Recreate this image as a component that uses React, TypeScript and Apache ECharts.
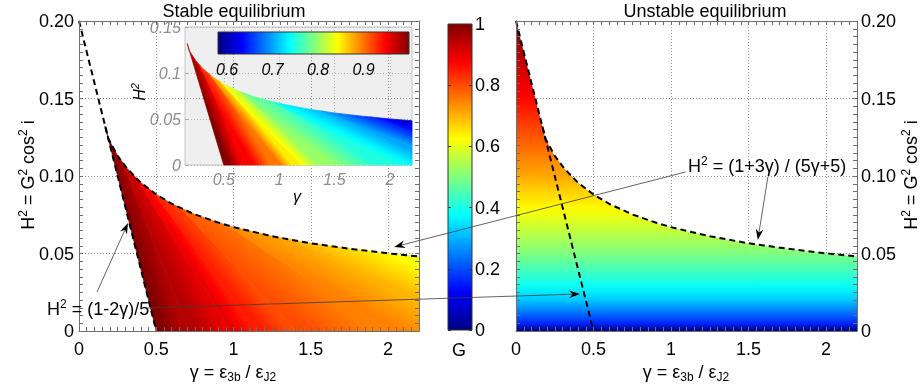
import React, { useEffect, useRef } from "react";
import * as echarts from "echarts";

const FONT = "'Liberation Sans', Arial, Helvetica, sans-serif";
const GAMMA_MAX = 2.2;

// Upper boundary of the equilibrium region (dashed curve), H² against γ
const curveGamma = [0, 0.1, 0.17, 0.19, 0.25, 0.31, 0.4, 0.5, 0.6, 0.75, 0.9, 1.0, 1.25, 1.5, 1.75, 2.0, 2.2];
const curveH2 = [0.2, 0.16, 0.132, 0.124, 0.113, 0.105, 0.0957, 0.0881, 0.0821, 0.0752, 0.07, 0.067, 0.0611, 0.0566, 0.0531, 0.0501, 0.0481];

// H² = (1-2γ)/5, from where it leaves the upper boundary down to H² = 0
const lineGamma = [0.17, 0.5];
const lineH2 = [0.132, 0];

// Stable branch: lines of constant G, from the upper boundary to the bottom / right edge
const isoG = [1.0, 0.95, 0.9, 0.85, 0.8, 0.75, 0.7, 0.65, 0.6];
const isoTopGamma = [0.17, 0.28, 0.38, 0.48, 0.66, 0.95, 1.38, 1.82, 2.2];
const isoEndGamma = [0.5, 0.71, 0.98, 1.15, 1.4, 2.0, 2.2, 2.2, 2.2];
const isoEndH2 = [0, 0, 0, 0, 0, 0, 0.02, 0.035, 0.0481];

// Unstable branch: G against H²
const unstableH2 = [0, 0.005, 0.01, 0.02, 0.03, 0.05, 0.075, 0.1, 0.125, 0.15, 0.2];
const unstableG = [0, 0.16, 0.22, 0.32, 0.39, 0.5, 0.61, 0.71, 0.79, 0.87, 1.0];

// Colour ranges
const mainRange = [0, 1];
const insetRange = [0.58, 1.0];
const colorbarTicks = [0, 0.2, 0.4, 0.6, 0.8, 1];
const insetColorbarTicks = [0.6, 0.7, 0.8, 0.9];
const insetGammaTicks = [0.5, 1, 1.5, 2];

// Annotation arrows: [panel, γ, H²] for tail and head (panel 0 = stable, 1 = unstable)
const arrowTails = [
  [0, 0.117, 0.0252],
  [0, 0.434, 0.0148],
  [1, 1.094, 0.1026],
  [1, 1.625, 0.0994],
];
const arrowHeads = [
  [0, 0.317, 0.0697],
  [1, 0.414, 0.0239],
  [0, 2.039, 0.0542],
  [1, 1.56, 0.0587],
];

const clamp01 = (v: number) => Math.max(0, Math.min(1, v));

function jet(t: number): string {
  const x = clamp01(t);
  const r = clamp01(1.5 - Math.abs(4 * x - 3));
  const g = clamp01(1.5 - Math.abs(4 * x - 2));
  const b = clamp01(1.5 - Math.abs(4 * x - 1));
  return `rgb(${Math.round(r * 255)},${Math.round(g * 255)},${Math.round(b * 255)})`;
}

const jetStops = [0, 0.125, 0.375, 0.625, 0.875, 1].map((t) => ({ offset: t, color: jet(t) }));

function lookup(xs: number[], ys: number[], x: number): number {
  if (x <= xs[0]) return ys[0];
  for (let i = 1; i < xs.length; i++) {
    if (x <= xs[i]) {
      const f = (x - xs[i - 1]) / (xs[i] - xs[i - 1]);
      return ys[i - 1] + f * (ys[i] - ys[i - 1]);
    }
  }
  return ys[ys.length - 1];
}

const curveAt = (g: number) => lookup(curveGamma, curveH2, g);
const lowerKey = (g: number, h: number) => g + h;
const lowerCorners = [
  [lineGamma[1], 0],
  [GAMMA_MAX, 0],
  [GAMMA_MAX, curveAt(GAMMA_MAX)],
];

// Polygon (data space) between two neighbouring constant-G lines
function bandPoints(k: number): number[][] {
  const t0 = isoTopGamma[k];
  const t1 = isoTopGamma[k + 1];
  const pts: number[][] = [[t0, curveAt(t0)]];
  curveGamma.forEach((g, i) => {
    if (g > t0 + 1e-9 && g < t1 - 1e-9) pts.push([g, curveH2[i]]);
  });
  pts.push([t1, curveAt(t1)]);
  const e0 = [isoEndGamma[k], isoEndH2[k]];
  const e1 = [isoEndGamma[k + 1], isoEndH2[k + 1]];
  pts.push(e1);
  const k0 = lowerKey(e0[0], e0[1]);
  const k1 = lowerKey(e1[0], e1[1]);
  lowerCorners
    .filter((c) => {
      const kc = lowerKey(c[0], c[1]);
      return kc > k0 + 1e-9 && kc < k1 - 1e-9;
    })
    .reverse()
    .forEach((c) => pts.push(c));
  pts.push(e0);
  return pts;
}

function makeBandRenderer(range: number[]) {
  const toT = (G: number) => (G - range[0]) / (range[1] - range[0]);
  return (params: any, api: any) => {
    const k = params.dataIndex;
    const pts = bandPoints(k).map((p) => api.coord(p));
    const a0 = api.coord([isoTopGamma[k], curveAt(isoTopGamma[k])]);
    const b0 = api.coord([isoEndGamma[k], isoEndH2[k]]);
    const a1 = api.coord([isoTopGamma[k + 1], curveAt(isoTopGamma[k + 1])]);
    const b1 = api.coord([isoEndGamma[k + 1], isoEndH2[k + 1]]);
    let dx = 0;
    let dy = 0;
    [[a0, b0], [a1, b1]].forEach(([a, b]) => {
      const l = Math.hypot(a[0] - b[0], a[1] - b[1]);
      if (l > 1e-6) {
        dx += (a[0] - b[0]) / l;
        dy += (a[1] - b[1]) / l;
      }
    });
    const dl = Math.hypot(dx, dy) || 1;
    dx /= dl;
    dy /= dl;
    let nx = -dy;
    let ny = dx;
    const m0 = [(a0[0] + b0[0]) / 2, (a0[1] + b0[1]) / 2];
    const m1 = [(a1[0] + b1[0]) / 2, (a1[1] + b1[1]) / 2];
    let proj = (m1[0] - m0[0]) * nx + (m1[1] - m0[1]) * ny;
    if (proj < 0) {
      nx = -nx;
      ny = -ny;
      proj = -proj;
    }
    const steps = 6;
    const stops = [];
    for (let s = 0; s <= steps; s++) {
      const G = isoG[k] + ((isoG[k + 1] - isoG[k]) * s) / steps;
      stops.push({ offset: s / steps, color: jet(toT(G)) });
    }
    const grad = new echarts.graphic.LinearGradient(m0[0], m0[1], m0[0] + nx * proj, m0[1] + ny * proj, stops, true);
    return {
      type: "polygon",
      shape: { points: pts },
      style: { fill: grad, stroke: grad, lineWidth: 0.7 },
    };
  };
}

function renderUnstable(params: any, api: any) {
  const pts = curveGamma.map((g, i) => api.coord([g, curveH2[i]]));
  pts.push(api.coord([GAMMA_MAX, 0]));
  pts.push(api.coord([0, 0]));
  const p0 = api.coord([0, 0]);
  const p1 = api.coord([0, 0.2]);
  const n = 40;
  const stops = [];
  for (let i = 0; i <= n; i++) {
    const h = (0.2 * i) / n;
    stops.push({ offset: i / n, color: jet(lookup(unstableH2, unstableG, h)) });
  }
  return {
    type: "polygon",
    shape: { points: pts },
    style: { fill: new echarts.graphic.LinearGradient(p0[0], p0[1], p1[0], p1[1], stops, true) },
  };
}

function renderColorbar(vertical: boolean, range: number[]) {
  return (params: any, api: any) => {
    const a = api.coord(vertical ? [0, range[0]] : [range[0], 0]);
    const b = api.coord(vertical ? [1, range[1]] : [range[1], 1]);
    const x = Math.min(a[0], b[0]);
    const y = Math.min(a[1], b[1]);
    return {
      type: "rect",
      shape: { x, y, width: Math.abs(b[0] - a[0]), height: Math.abs(b[1] - a[1]) },
      style: {
        fill: vertical
          ? new echarts.graphic.LinearGradient(0, 1, 0, 0, jetStops)
          : new echarts.graphic.LinearGradient(0, 0, 1, 0, jetStops),
        stroke: "#333",
        lineWidth: 1,
      },
    };
  };
}

const gridLine = { show: true, lineStyle: { color: "#8c8c8c", width: 1, type: [1, 2] } };
const frameColor = "#6e6e6e";
const labelStyle = { fontSize: 18, fontFamily: FONT, color: "#000" };
const insetLabelStyle = { fontSize: 16, fontFamily: FONT, color: "#8c8c8c", fontStyle: "italic" };

const gammaFmt = (v: number) => (Math.abs(v * 2 - Math.round(v * 2)) > 1e-6 ? "" : String(+v.toFixed(2)));
const h2Fmt = (v: number) => (Math.abs(v) < 1e-9 ? "0" : v.toFixed(2));

function labelAxis(grid: number, position: string, extra: any) {
  return {
    gridIndex: grid,
    type: "value",
    position,
    z: 4,
    axisLine: { show: false, onZero: false },
    axisTick: { show: false },
    splitLine: gridLine,
    ...extra,
  };
}

function tickAxis(grid: number, position: string, min: number, max: number, interval: number) {
  return {
    gridIndex: grid,
    type: "value",
    position,
    min,
    max,
    interval,
    z: 9,
    axisLine: { show: true, onZero: false, lineStyle: { color: frameColor, width: 1 } },
    axisTick: { show: true, inside: true, length: 4, lineStyle: { color: frameColor, width: 1 } },
    axisLabel: { show: false },
    splitLine: { show: false },
  };
}

function rich(size: number, color: string, italic = false) {
  const fontStyle = italic ? "italic" : "normal";
  const small = Math.round(size * 0.68);
  return {
    n: { fontSize: size, fontFamily: FONT, color, fontStyle, lineHeight: size + 4 },
    sup: { fontSize: small, fontFamily: FONT, color, fontStyle, lineHeight: small, verticalAlign: "top" },
    sub: { fontSize: small, fontFamily: FONT, color, fontStyle, lineHeight: small, verticalAlign: "bottom" },
  };
}

function textEl(x: number, y: number, text: string, r: any, opts: any = {}) {
  return {
    type: "text",
    x,
    y,
    rotation: opts.rotation || 0,
    z: 20,
    silent: true,
    style: { text, rich: r, align: opts.align || "center", verticalAlign: "middle" },
  };
}

function arrowEls(tail: number[], head: number[]) {
  const dx = head[0] - tail[0];
  const dy = head[1] - tail[1];
  const len = Math.hypot(dx, dy) || 1;
  const ux = dx / len;
  const uy = dy / len;
  const vx = -uy;
  const vy = ux;
  const L = 11;
  const W = 3.8;
  const notch = 7.5;
  const back = [head[0] - ux * L, head[1] - uy * L];
  const mid = [head[0] - ux * notch, head[1] - uy * notch];
  return [
    {
      type: "line",
      z: 20,
      silent: true,
      shape: { x1: tail[0], y1: tail[1], x2: mid[0], y2: mid[1] },
      style: { stroke: "#3c3c3c", lineWidth: 0.8 },
    },
    {
      type: "polygon",
      z: 21,
      silent: true,
      shape: {
        points: [
          [head[0], head[1]],
          [back[0] + vx * W, back[1] + vy * W],
          mid,
          [back[0] - vx * W, back[1] - vy * W],
        ],
      },
      style: { fill: "#000" },
    },
  ];
}

export default function App() {
  const ref = useRef<HTMLDivElement>(null);

  useEffect(() => {
    if (!ref.current) return;
    const chart = echarts.init(ref.current, undefined, { renderer: "svg" });

    const curveData = curveGamma.map((g, i) => [g, curveH2[i]]);
    const lineData = lineGamma.map((g, i) => [g, lineH2[i]]);
    const dash = { color: "#000", width: 2, type: [6, 4] };
    const bandData = isoG.slice(0, -1).map((g, k) => [isoTopGamma[k], curveAt(isoTopGamma[k])]);

    const option: any = {
      animation: false,
      grid: [
        { left: 79, top: 21, width: 340, height: 310 },
        { left: 516, top: 21, width: 341, height: 310 },
        { left: 185, top: 27, width: 227, height: 138 },
        { left: 448, top: 24, width: 24, height: 306 },
        { left: 218, top: 32, width: 191, height: 22 },
      ],
      xAxis: [
        labelAxis(0, "bottom", {
          min: 0,
          max: GAMMA_MAX,
          interval: 0.5,
          axisLabel: { ...labelStyle, margin: 9, formatter: gammaFmt },
        }),
        tickAxis(0, "bottom", 0, GAMMA_MAX, 0.05),
        tickAxis(0, "top", 0, GAMMA_MAX, 0.05),
        labelAxis(1, "bottom", {
          min: 0,
          max: GAMMA_MAX,
          interval: 0.5,
          axisLabel: { ...labelStyle, margin: 9, formatter: gammaFmt },
        }),
        tickAxis(1, "bottom", 0, GAMMA_MAX, 0.05),
        tickAxis(1, "top", 0, GAMMA_MAX, 0.05),
        {
          gridIndex: 2,
          type: "value",
          position: "bottom",
          min: 0.15,
          max: GAMMA_MAX,
          z: 5,
          axisLine: { show: false, onZero: false },
          axisTick: { show: true, inside: true, length: 3, customValues: insetGammaTicks, lineStyle: { color: "#aaa" } },
          axisLabel: { ...insetLabelStyle, margin: 6, customValues: insetGammaTicks, formatter: (v: number) => String(v) },
          splitLine: { show: true, lineStyle: { color: "#b0b0b0", width: 1, type: [1, 2] } },
        },
        { gridIndex: 3, type: "value", min: 0, max: 1, show: false },
        {
          gridIndex: 4,
          type: "value",
          position: "bottom",
          min: insetRange[0],
          max: insetRange[1],
          z: 8,
          axisLine: { show: false, onZero: false },
          axisTick: { show: false },
          axisLabel: {
            fontSize: 16,
            fontFamily: FONT,
            color: "#000",
            fontStyle: "italic",
            margin: 7,
            customValues: insetColorbarTicks,
            formatter: (v: number) => String(v),
          },
          splitLine: { show: false },
        },
      ],
      yAxis: [
        labelAxis(0, "left", {
          min: 0,
          max: 0.2,
          interval: 0.05,
          axisLabel: { ...labelStyle, margin: 5, formatter: h2Fmt },
        }),
        tickAxis(0, "left", 0, 0.2, 0.005),
        tickAxis(0, "right", 0, 0.2, 0.005),
        labelAxis(1, "right", {
          min: 0,
          max: 0.2,
          interval: 0.05,
          axisLabel: { ...labelStyle, margin: 4, formatter: h2Fmt },
        }),
        tickAxis(1, "right", 0, 0.2, 0.005),
        tickAxis(1, "left", 0, 0.2, 0.005),
        {
          gridIndex: 2,
          type: "value",
          position: "left",
          min: 0,
          max: 0.15,
          interval: 0.05,
          z: 5,
          axisLine: { show: false, onZero: false },
          axisTick: { show: true, inside: true, length: 3, lineStyle: { color: "#aaa" } },
          axisLabel: { ...insetLabelStyle, margin: 4, formatter: (v: number) => (v === 0 ? "0" : String(+v.toFixed(2))) },
          splitLine: { show: true, lineStyle: { color: "#b0b0b0", width: 1, type: [1, 2] } },
        },
        {
          gridIndex: 3,
          type: "value",
          position: "right",
          min: mainRange[0],
          max: mainRange[1],
          interval: 0.2,
          z: 9,
          axisLine: { show: false, onZero: false },
          axisTick: { show: true, inside: true, length: 3, lineStyle: { color: "#333" } },
          axisLabel: {
            ...labelStyle,
            margin: 3,
            customValues: colorbarTicks,
            formatter: (v: number) => String(+v.toFixed(1)),
          },
          splitLine: { show: false },
        },
        {
          gridIndex: 3,
          type: "value",
          position: "left",
          min: mainRange[0],
          max: mainRange[1],
          interval: 0.2,
          z: 9,
          axisLine: { show: false, onZero: false },
          axisTick: { show: true, inside: true, length: 3, lineStyle: { color: "#333" } },
          axisLabel: { show: false },
          splitLine: { show: false },
        },
        { gridIndex: 4, type: "value", min: 0, max: 1, show: false },
      ],
      series: [
        {
          type: "custom",
          xAxisIndex: 0,
          yAxisIndex: 0,
          z: 5,
          silent: true,
          data: bandData,
          renderItem: makeBandRenderer(mainRange),
        },
        { type: "line", xAxisIndex: 0, yAxisIndex: 0, z: 7, silent: true, symbol: "none", data: curveData, lineStyle: dash },
        { type: "line", xAxisIndex: 0, yAxisIndex: 0, z: 7, silent: true, symbol: "none", data: lineData, lineStyle: dash },
        {
          type: "custom",
          xAxisIndex: 3,
          yAxisIndex: 3,
          z: 5,
          silent: true,
          data: [[0, 0]],
          renderItem: renderUnstable,
        },
        { type: "line", xAxisIndex: 3, yAxisIndex: 3, z: 7, silent: true, symbol: "none", data: curveData, lineStyle: dash },
        { type: "line", xAxisIndex: 3, yAxisIndex: 3, z: 7, silent: true, symbol: "none", data: lineData, lineStyle: dash },
        {
          type: "custom",
          xAxisIndex: 6,
          yAxisIndex: 6,
          z: 3,
          silent: true,
          data: [[1, 0.05]],
          renderItem: (params: any) => {
            const cs = params.coordSys;
            return {
              type: "rect",
              shape: { x: cs.x, y: cs.y, width: cs.width, height: cs.height },
              style: { fill: "#efefef", stroke: "#c4c4c4", lineWidth: 1 },
            };
          },
        },
        {
          type: "custom",
          xAxisIndex: 6,
          yAxisIndex: 6,
          z: 6,
          silent: true,
          data: bandData,
          renderItem: makeBandRenderer(insetRange),
        },
        {
          type: "custom",
          xAxisIndex: 7,
          yAxisIndex: 7,
          z: 6,
          silent: true,
          data: [[0.5, 0.5]],
          renderItem: renderColorbar(true, mainRange),
        },
        {
          type: "custom",
          xAxisIndex: 8,
          yAxisIndex: 9,
          z: 8,
          silent: true,
          data: [[0.8, 0.5]],
          renderItem: renderColorbar(false, insetRange),
        },
      ],
    };

    chart.setOption(option);

    const panelSeries = [1, 4];
    const toPx = (p: number[]) =>
      chart.convertToPixel({ seriesIndex: panelSeries[p[0]] }, [p[1], p[2]]) as number[];

    const r18 = rich(18, "#000");
    const rInset = rich(16, "#8c8c8c", true);
    const yTitle = "{n|H}{sup|2}{n| = G}{sup|2}{n| cos}{sup|2}{n| i}";
    const xTitle = "{n|γ = ε}{sub|3b}{n| / ε}{sub|J2}";

    const graphic: any[] = [
      textEl(234, 11, "{n|Stable equilibrium}", r18),
      textEl(705, 11, "{n|Unstable equilibrium}", r18),
      textEl(233, 372, xTitle, r18),
      textEl(686, 372, xTitle, r18),
      textEl(28, 175, yTitle, r18, { rotation: Math.PI / 2 }),
      textEl(911, 175, yTitle, r18, { rotation: Math.PI / 2 }),
      textEl(459, 350, "{n|G}", r18),
      textEl(297, 196, "{n|γ}", rInset),
      textEl(139, 92, "{n|H}{sup|2}", rInset, { rotation: Math.PI / 2 }),
      textEl(47, 309, "{n|H}{sup|2}{n| = (1-2γ)/5}", r18, { align: "left" }),
      textEl(688, 166, "{n|H}{sup|2}{n| = (1+3γ) / (5γ+5)}", r18, { align: "left" }),
    ];
    arrowTails.forEach((t, i) => {
      graphic.push(...arrowEls(toPx(t), toPx(arrowHeads[i])));
    });
    chart.setOption({ graphic });

    return () => chart.dispose();
  }, []);

  return <div ref={ref} style={{ position: "fixed", left: 0, top: 0, width: 920, height: 392 }} />;
}
